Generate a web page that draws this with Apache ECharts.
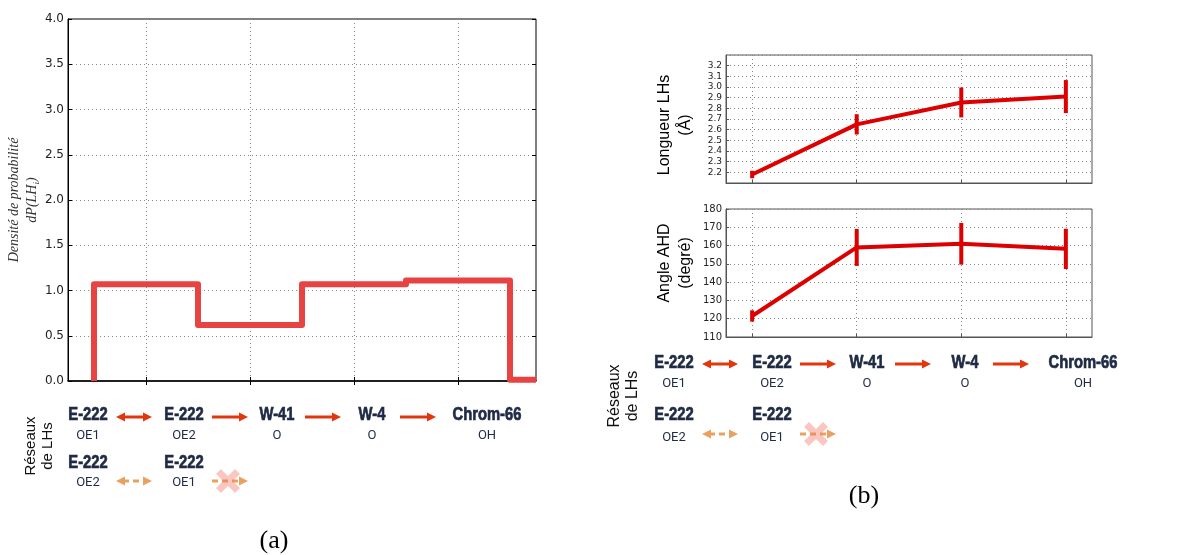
<!DOCTYPE html>
<html>
<head>
<meta charset="utf-8">
<script src="https://cdn.jsdelivr.net/npm/echarts@6/dist/echarts.min.js"></script>
<style>
html,body{margin:0;padding:0;background:#fff;}
#chart{width:1200px;height:555px;}
</style>
</head>
<body>
<div id="chart"></div>
<script>
// ---------- data ----------
// (a) probability density, step plot: bin edges and values
var stepEdges = [0.5, 1.5, 2.5, 3.5, 4.5, 4.75];
var stepValues = [1.07, 0.62, 1.07, 1.11, 0.015];
var xTicksA = [1, 2, 3, 4];

// (b) LH length and AHD angle with error bars
var netPos = [1, 2, 3, 4];
var lhLength = [2.18, 2.65, 2.855, 2.91];
var lhLengthErr = [0.035, 0.095, 0.14, 0.155];
var ahdAngle = [121.5, 159.0, 161.0, 158.2];
var ahdAngleErr = [3.1, 10.1, 11.4, 11.0];

// network annotation labels
var netNames = ['E-222', 'E-222', 'W-41', 'W-4', 'Chrom-66'];
var netSites = ['OE1', 'OE2', 'O', 'O', 'OH'];
var netNames2 = ['E-222', 'E-222'];
var netSites2 = ['OE2', 'OE1'];

// ---------- build ----------
var stepData = [[stepEdges[0], 0]];
for (var i = 0; i < stepValues.length; i++) {
  stepData.push([stepEdges[i], stepValues[i]]);
}
stepData.push([stepEdges[stepEdges.length - 1], stepValues[stepValues.length - 1]]);

function pairs(xs, ys) { return xs.map(function (x, i) { return [x, ys[i]]; }); }
function errData(xs, ys, es) { return xs.map(function (x, i) { return [x, ys[i] - es[i], ys[i] + es[i]]; }); }

var RED = '#dd0000';
function errRender(params, api) {
  var lo = api.coord([api.value(0), api.value(1)]);
  var hi = api.coord([api.value(0), api.value(2)]);
  return {
    type: 'line',
    shape: { x1: lo[0], y1: lo[1], x2: hi[0], y2: hi[1] },
    style: { stroke: RED, lineWidth: 4 }
  };
}

var gridLine = { show: true, lineStyle: { color: '#888', type: [1, 3], width: 1 } };
var tickFont = 'DejaVu Sans';

// ---------- annotations ----------
var NAVY = '#1f2a44';
var ARROW = '#e2360e';
var ORANGE = '#e9a160';
var graphics = [];
function txt(x, y, s, font, color, sx, sw) {
  var st = { text: s, font: font, fill: color, textAlign: 'center', textVerticalAlign: 'middle' };
  if (sw) { st.stroke = color; st.lineWidth = sw; }
  graphics.push({ type: 'text', x: x, y: y, scaleX: sx || 1, silent: true, style: st });
}
function rtxt(x, y, s, font, color) {
  graphics.push({ type: 'text', x: x, y: y, rotation: Math.PI / 2, silent: true,
    style: { text: s, font: font, fill: color, textAlign: 'center', textVerticalAlign: 'middle' } });
}
function head(x, y, dir, color) {
  graphics.push({ type: 'polygon', silent: true,
    shape: { points: [[x, y], [x - dir * 9, y - 4.5], [x - dir * 9, y + 4.5]] },
    style: { fill: color } });
}
function arrow(x1, x2, y, both, dashed, color) {
  graphics.push({ type: 'line', silent: true,
    shape: { x1: both ? x1 + 7 : x1, y1: y, x2: x2 - 7, y2: y },
    style: { stroke: color, lineWidth: 3, lineDash: dashed ? [6, 4] : null } });
  head(x2, y, 1, color);
  if (both) head(x1, y, -1, color);
}
function cross(cx, cy, r, t) {
  var a = t / Math.SQRT2;
  var p = [[-r, -r + a], [-r + a, -r], [0, -a], [r - a, -r], [r, -r + a], [a, 0],
           [r, r - a], [r - a, r], [0, a], [-r + a, r], [-r, r - a], [-a, 0]];
  graphics.push({ type: 'polygon', silent: true,
    shape: { points: p.map(function (q) { return [cx + q[0], cy + q[1]]; }) },
    style: { fill: '#f07a6a', opacity: 0.42 } });
}
var BOLD = 'bold 18px "Liberation Sans", Arial, sans-serif';
var SUB = '13px Roboto, "Open Sans", sans-serif';
function network(cols, y1, s1, y2, s2, ay1, ay2, rx1, rx2, ry, rfs) {
  for (var k = 0; k < cols.length; k++) {
    txt(cols[k], y1, netNames[k], BOLD, NAVY, 0.82, 0.7);
    txt(cols[k], s1, netSites[k], SUB, NAVY);
    if (k < cols.length - 1) arrow(cols[k] + 28, cols[k] + 64, ay1, k === 0, false, ARROW);
  }
  for (var m = 0; m < netNames2.length; m++) {
    txt(cols[m], y2, netNames2[m], BOLD, NAVY, 0.82, 0.7);
    txt(cols[m], s2, netSites2[m], SUB, NAVY);
    arrow(cols[m] + 28, cols[m] + 64, ay2, m === 0, true, ORANGE);
  }
  cross(cols[1] + 44, ay2, 12, 7);
  var rf = rfs + 'px "Liberation Sans", Arial, sans-serif';
  rtxt(rx1, ry, 'Réseaux', rf, '#111');
  rtxt(rx2, ry, 'de LHs', rf, '#111');
}
network([88, 184, 277, 372, 487], 415, 436, 463, 483, 417, 481, 31, 48, 446, 15);
network([674, 772, 867, 965, 1083], 363, 384, 415, 438, 364, 434, 615, 633, 396, 16);
txt(274, 541, '(a)', '26px "Liberation Serif", "Times New Roman", serif', '#000');
txt(864, 496, '(b)', '26px "Liberation Serif", "Times New Roman", serif', '#000');

// ---------- option ----------
var option = {
  animation: false,
  backgroundColor: '#fff',
  grid: [
    { left: 68, top: 19, width: 468, height: 362, show: true, borderColor: '#000', borderWidth: 1, containLabel: false },
    { left: 726, top: 55, width: 366, height: 128, show: true, borderColor: '#555', borderWidth: 1, containLabel: false },
    { left: 726, top: 209, width: 366, height: 128, show: true, borderColor: '#555', borderWidth: 1, containLabel: false }
  ],
  xAxis: [
    { gridIndex: 0, type: 'value', min: 0.25, max: 4.75,
      axisLine: { lineStyle: { color: '#000', width: 1.5 } },
      axisTick: { inside: true, length: 4, customValues: xTicksA, lineStyle: { color: '#000' } },
      axisLabel: { show: false, customValues: xTicksA },
      splitLine: gridLine },
    { gridIndex: 1, type: 'value', min: 0.75, max: 4.25,
      axisLine: { lineStyle: { color: '#555', width: 1 } },
      axisTick: { inside: true, length: 3, customValues: netPos, lineStyle: { color: '#555' } },
      axisLabel: { show: false, customValues: netPos },
      splitLine: gridLine },
    { gridIndex: 2, type: 'value', min: 0.75, max: 4.25,
      axisLine: { lineStyle: { color: '#555', width: 1 } },
      axisTick: { inside: true, length: 3, customValues: netPos, lineStyle: { color: '#555' } },
      axisLabel: { show: false, customValues: netPos },
      splitLine: gridLine },
    { gridIndex: 0, type: 'value', min: 0.25, max: 4.75, position: 'top',
      axisLine: { show: false },
      axisTick: { inside: true, length: 4, customValues: xTicksA, lineStyle: { color: '#000' } },
      axisLabel: { show: false, customValues: xTicksA },
      splitLine: { show: false } }
  ],
  yAxis: [
    { gridIndex: 0, type: 'value', min: 0, max: 4, interval: 0.5,
      name: '{a|Densité de probabilité}\n{a|dP(LH}{s|i}{a|)}',
      nameLocation: 'middle', nameGap: 24, nameRotate: 90,
      nameTextStyle: { rich: {
        a: { fontFamily: '"Liberation Serif", serif', fontStyle: 'italic', fontSize: 14, color: '#333', lineHeight: 18 },
        s: { fontFamily: '"Liberation Serif", serif', fontStyle: 'italic', fontSize: 9, color: '#333', lineHeight: 18, verticalAlign: 'bottom', padding: [6, 0, 0, 0] } } },
      axisLine: { show: true, lineStyle: { color: '#000', width: 1 } },
      axisTick: { show: true, inside: true, length: 4, lineStyle: { color: '#000' } },
      axisLabel: { fontFamily: tickFont, fontSize: 12, color: '#222', margin: 4,
        formatter: function (v) { return v.toFixed(1); } },
      splitLine: gridLine },
    { gridIndex: 1, type: 'value', min: 2.1, max: 3.3, interval: 0.1,
      name: 'Longueur LHs\n(Å)', nameLocation: 'middle', nameGap: 30, nameRotate: 90,
      nameTextStyle: { fontFamily: '"Liberation Sans", Arial, sans-serif', fontSize: 16, color: '#000', lineHeight: 21, align: 'center', padding: [0, 12, 0, 0] },
      axisLine: { show: true, lineStyle: { color: '#555', width: 1 } },
      axisTick: { show: true, inside: true, length: 3, lineStyle: { color: '#555' } },
      axisLabel: { fontFamily: tickFont, fontSize: 9, color: '#222', margin: 4,
        showMinLabel: false, showMaxLabel: false,
        formatter: function (v) { return v.toFixed(1); } },
      splitLine: gridLine },
    { gridIndex: 2, type: 'value', min: 110, max: 180, interval: 10,
      name: 'Angle AHD\n(degré)', nameLocation: 'middle', nameGap: 30, nameRotate: 90,
      nameTextStyle: { fontFamily: '"Liberation Sans", Arial, sans-serif', fontSize: 16, color: '#000', lineHeight: 21, align: 'center', padding: [0, 0, 0, 20] },
      axisLine: { show: true, lineStyle: { color: '#555', width: 1 } },
      axisTick: { show: true, inside: true, length: 3, lineStyle: { color: '#555' } },
      axisLabel: { fontFamily: tickFont, fontSize: 10, color: '#222', margin: 4 },
      splitLine: gridLine },
    { gridIndex: 0, type: 'value', min: 0, max: 4, interval: 0.5, position: 'right',
      axisLine: { show: false },
      axisTick: { show: true, inside: true, length: 4, lineStyle: { color: '#000' } },
      axisLabel: { show: false },
      splitLine: { show: false } }
  ],
  series: [
    { type: 'line', xAxisIndex: 0, yAxisIndex: 0, step: 'end', data: stepData,
      showSymbol: false, lineStyle: { color: '#e84343', width: 6, join: 'round' } },
    { type: 'line', xAxisIndex: 1, yAxisIndex: 1, data: pairs(netPos, lhLength),
      showSymbol: false, lineStyle: { color: RED, width: 4 } },
    { type: 'custom', xAxisIndex: 1, yAxisIndex: 1, data: errData(netPos, lhLength, lhLengthErr),
      renderItem: errRender, encode: { x: 0, y: [1, 2] } },
    { type: 'line', xAxisIndex: 2, yAxisIndex: 2, data: pairs(netPos, ahdAngle),
      showSymbol: false, lineStyle: { color: RED, width: 4 } },
    { type: 'custom', xAxisIndex: 2, yAxisIndex: 2, data: errData(netPos, ahdAngle, ahdAngleErr),
      renderItem: errRender, encode: { x: 0, y: [1, 2] } }
  ],
  graphic: graphics
};

var chart = echarts.init(document.getElementById('chart'), null, { renderer: 'canvas' });
chart.setOption(option);
</script>
</body>
</html>
